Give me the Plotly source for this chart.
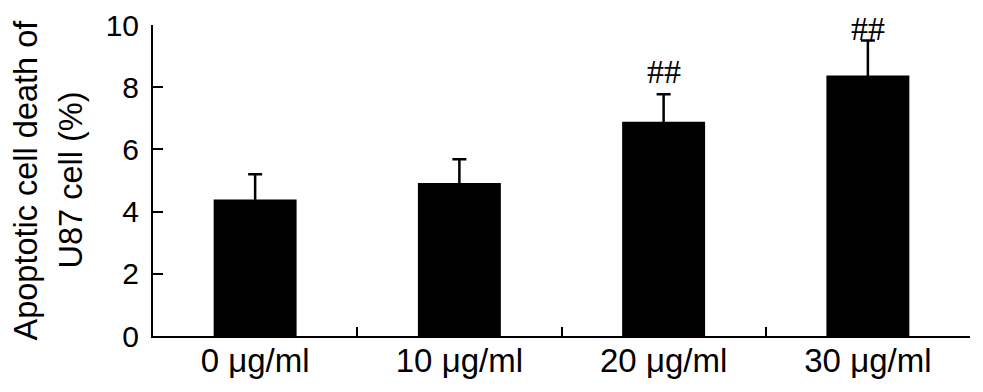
import plotly.graph_objects as go

categories = ["0 μg/ml", "10 μg/ml", "20 μg/ml", "30 μg/ml"]
apoptosis = [4.39, 4.92, 6.89, 8.38]
sd = [0.81, 0.76, 0.88, 1.12]
sig_labels = ["", "", "##", "##"]
sig_shift = [0, 0, 23, 12]
ytitle_lines = ["Apoptotic cell death of", "U87 cell (%)"]

FONT = "Liberation Sans, Arial, sans-serif"
# page body has an 8px default margin; figure sized to fit the 983x392 window
W, H = 975, 384
L, R, T, B = 145, 13, 17, 56
PW = W - L - R

fig = go.Figure()
fig.add_trace(go.Bar(
    x=categories, y=apoptosis,
    marker=dict(color="black", line=dict(width=0)),
    error_y=dict(type="data", array=sd, symmetric=True,
                 color="black", thickness=2.5, width=7),
    width=0.406,
))

for c, v, e, s, sh in zip(categories, apoptosis, sd, sig_labels, sig_shift):
    if s:
        fig.add_annotation(x=c, y=v + e, text=s, showarrow=False, yanchor="middle",
                           yshift=sh, font=dict(family="Liberation Serif, Times New Roman, serif",
                                                size=34, color="black"))

for line, px in zip(ytitle_lines, [17, 62]):
    fig.add_annotation(xref="paper", yref="paper", x=(px - L) / PW, y=0.5,
                       text=line, textangle=-90,
                       showarrow=False, xanchor="center", yanchor="middle",
                       font=dict(family=FONT, size=32.5, color="black"))

fig.update_layout(
    width=W, height=H,
    margin=dict(l=L, r=R, t=T, b=B, autoexpand=False),
    paper_bgcolor="white", plot_bgcolor="white",
    showlegend=False,
    font=dict(family=FONT, color="black"),
)
fig.update_xaxes(
    type="category", range=[-0.5, 3.5], automargin=False,
    showline=True, linecolor="black", linewidth=2,
    ticks="inside", tickson="boundaries", ticklen=9, tickwidth=2, tickcolor="black",
    tickfont=dict(size=33, family=FONT, color="black"),
    ticklabelstandoff=-6,
    showgrid=False, zeroline=False,
)
fig.update_yaxes(
    range=[0, 10], dtick=2, tick0=0, automargin=False,
    showline=True, linecolor="black", linewidth=2,
    ticks="inside", ticklen=10, tickwidth=2, tickcolor="black",
    tickfont=dict(size=30, family=FONT, color="black"),
    ticklabelstandoff=6,
    showgrid=False, zeroline=False,
)

fig.write_html("out.html")
